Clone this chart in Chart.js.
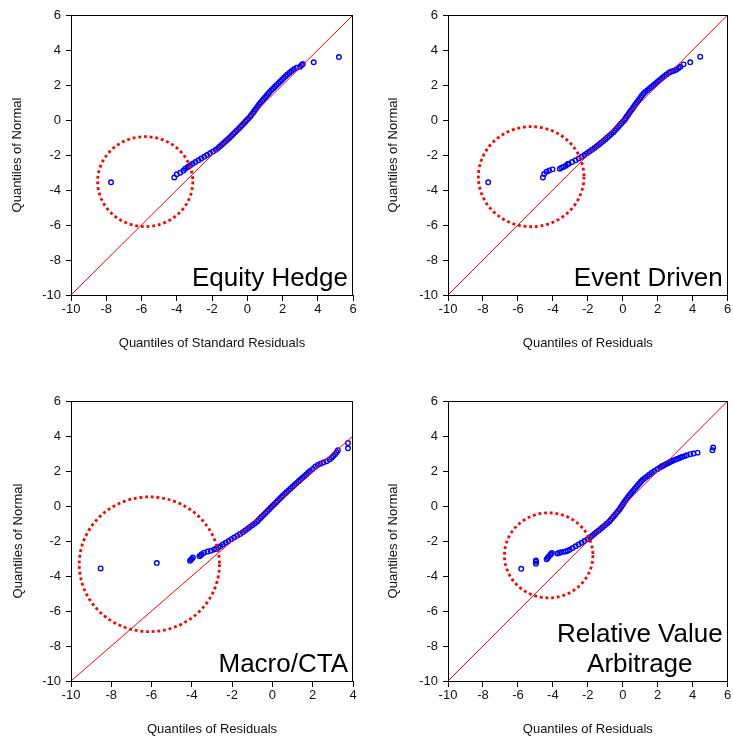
<!DOCTYPE html>
<html>
<head>
<meta charset="utf-8">
<script src="https://cdn.jsdelivr.net/npm/chart.js@4/dist/chart.umd.min.js"></script>
<style>
html,body{margin:0;padding:0;background:#fff;}
body{width:733px;height:738px;position:relative;overflow:hidden;}
canvas{position:absolute;display:block;}
</style>
</head>
<body>
<canvas id="p0" style="left:0px;top:0px;width:366px;height:366px" width="366" height="366"></canvas>
<canvas id="p1" style="left:370px;top:0px;width:363px;height:366px" width="363" height="366"></canvas>
<canvas id="p2" style="left:0px;top:380px;width:366px;height:358px" width="366" height="358"></canvas>
<canvas id="p3" style="left:370px;top:380px;width:363px;height:358px" width="363" height="358"></canvas>
<script>
// ---------------- DATA ----------------
const panelTitles = [["Equity Hedge"], ["Event Driven"], ["Macro/CTA"], ["Relative Value", "Arbitrage"]];
const xAxisTitles = ["Quantiles of Standard Residuals", "Quantiles of Residuals", "Quantiles of Residuals", "Quantiles of Residuals"];
const yAxisTitle = "Quantiles of Normal";
const xAxisMin = [-10, -10, -10, -10];
const xAxisMax = [6, 6, 4, 6];
const yAxisMin = -10;
const yAxisMax = 6;
const tickStep = 2;

// Equity Hedge: quantiles of standard residuals (x) vs quantiles of normal (y)
const ehResid = [-7.73,-4.14,-4.00,-3.80,-3.63,-3.52,-3.40,-3.34,-3.24,-3.10,-2.94,-2.77,-2.61,-2.44,-2.28,-2.11,-1.94,-1.78,-1.65,-1.54,-1.43,-1.32,-1.21,-1.10,-0.99,-0.89,-0.79,-0.69,-0.59,-0.49,-0.39,-0.30,-0.20,-0.11,-0.02,0.08,0.17,0.24,0.32,0.39,0.46,0.54,0.61,0.68,0.76,0.85,0.93,1.02,1.10,1.19,1.27,1.37,1.47,1.57,1.67,1.77,1.87,1.97,2.07,2.17,2.28,2.40,2.52,2.65,2.80,3.00,3.09,3.15,3.77,5.20];
const ehNormal = [-3.56,-3.28,-3.10,-3.01,-2.90,-2.78,-2.70,-2.67,-2.60,-2.50,-2.40,-2.30,-2.20,-2.10,-2.00,-1.90,-1.80,-1.70,-1.60,-1.50,-1.40,-1.30,-1.20,-1.10,-1.00,-0.90,-0.80,-0.70,-0.60,-0.50,-0.40,-0.30,-0.20,-0.10,0.00,0.10,0.20,0.30,0.40,0.50,0.60,0.70,0.80,0.90,1.00,1.10,1.20,1.30,1.40,1.50,1.60,1.70,1.80,1.90,2.00,2.10,2.20,2.30,2.40,2.50,2.60,2.70,2.80,2.90,2.98,3.05,3.14,3.20,3.30,3.60];

// Event Driven
const edResid = [-7.70,-4.57,-4.50,-4.36,-4.21,-4.02,-3.60,-3.50,-3.40,-3.26,-3.16,-3.10,-2.90,-2.70,-2.52,-2.35,-2.19,-2.05,-1.91,-1.76,-1.62,-1.49,-1.36,-1.24,-1.11,-0.99,-0.88,-0.77,-0.66,-0.54,-0.45,-0.36,-0.27,-0.18,-0.09,0.00,0.10,0.16,0.23,0.30,0.37,0.44,0.52,0.59,0.66,0.73,0.81,0.88,0.96,1.03,1.10,1.18,1.28,1.41,1.53,1.65,1.77,1.89,2.01,2.13,2.25,2.37,2.50,2.64,2.75,2.88,3.00,3.09,3.20,3.29,3.48,3.86,4.43];
const edNormal = [-3.56,-3.28,-3.09,-2.95,-2.88,-2.82,-2.78,-2.72,-2.68,-2.61,-2.53,-2.50,-2.40,-2.30,-2.20,-2.10,-2.00,-1.90,-1.80,-1.70,-1.60,-1.50,-1.40,-1.30,-1.20,-1.10,-1.00,-0.90,-0.80,-0.70,-0.60,-0.50,-0.40,-0.30,-0.20,-0.10,0.00,0.10,0.20,0.30,0.40,0.50,0.60,0.70,0.80,0.90,1.00,1.10,1.20,1.30,1.40,1.50,1.60,1.70,1.80,1.90,2.00,2.10,2.20,2.30,2.40,2.50,2.60,2.70,2.76,2.80,2.84,2.90,2.97,3.05,3.18,3.30,3.62];

// Macro/CTA
const mcResid = [-8.53,-5.74,-4.09,-4.04,-4.00,-3.95,-3.62,-3.56,-3.51,-3.39,-3.22,-3.06,-2.89,-2.79,-2.69,-2.59,-2.46,-2.32,-2.18,-2.04,-1.90,-1.75,-1.61,-1.47,-1.35,-1.23,-1.12,-1.00,-0.88,-0.77,-0.69,-0.60,-0.52,-0.43,-0.34,-0.26,-0.17,-0.09,0.00,0.09,0.18,0.26,0.35,0.44,0.52,0.62,0.71,0.81,0.90,1.00,1.09,1.19,1.29,1.38,1.48,1.58,1.68,1.77,1.87,2.00,2.12,2.25,2.38,2.53,2.69,2.84,2.94,3.02,3.11,3.19,3.25,3.75,3.75];
const mcNormal = [-3.57,-3.26,-3.13,-3.06,-3.02,-2.94,-2.87,-2.81,-2.75,-2.67,-2.60,-2.56,-2.48,-2.43,-2.37,-2.30,-2.20,-2.10,-2.00,-1.90,-1.80,-1.70,-1.60,-1.50,-1.40,-1.30,-1.20,-1.10,-1.00,-0.90,-0.80,-0.70,-0.60,-0.50,-0.40,-0.30,-0.20,-0.10,0.00,0.10,0.20,0.30,0.40,0.50,0.60,0.70,0.80,0.90,1.00,1.10,1.20,1.30,1.40,1.50,1.60,1.70,1.80,1.90,2.00,2.12,2.25,2.35,2.42,2.48,2.56,2.66,2.76,2.86,2.96,3.07,3.18,3.30,3.60];

// Relative Value Arbitrage
const rvResid = [-5.81,-4.97,-4.97,-4.97,-4.36,-4.30,-4.25,-4.15,-4.12,-4.06,-3.74,-3.64,-3.55,-3.40,-3.26,-3.15,-3.04,-2.87,-2.70,-2.53,-2.36,-2.19,-2.02,-1.87,-1.75,-1.63,-1.51,-1.38,-1.26,-1.14,-1.02,-0.90,-0.78,-0.70,-0.61,-0.53,-0.44,-0.36,-0.27,-0.19,-0.13,-0.06,0.01,0.07,0.14,0.22,0.29,0.37,0.45,0.53,0.62,0.70,0.79,0.87,0.96,1.04,1.14,1.27,1.40,1.53,1.66,1.81,1.97,2.13,2.24,2.30,2.39,2.49,2.58,2.68,2.77,2.81,2.93,3.06,3.18,3.28,3.38,3.52,3.66,3.86,4.05,4.28,5.13,5.17];
const rvNormal = [-3.59,-3.30,-3.19,-3.11,-3.04,-2.97,-2.90,-2.80,-2.75,-2.69,-2.71,-2.68,-2.64,-2.62,-2.60,-2.56,-2.50,-2.40,-2.30,-2.20,-2.10,-2.00,-1.90,-1.80,-1.70,-1.60,-1.50,-1.40,-1.30,-1.20,-1.10,-1.00,-0.90,-0.80,-0.70,-0.60,-0.50,-0.40,-0.30,-0.20,-0.10,0.00,0.10,0.20,0.30,0.40,0.50,0.60,0.70,0.80,0.90,1.00,1.10,1.20,1.30,1.40,1.50,1.60,1.70,1.80,1.90,2.00,2.10,2.20,2.27,2.30,2.35,2.40,2.45,2.50,2.55,2.57,2.62,2.67,2.72,2.76,2.80,2.85,2.90,2.96,3.00,3.05,3.18,3.34];

// 45-degree reference lines (start/end in data units)
const refLineX = [[-10, 6], [-10, 6], [-10, 4], [-10, 6]];
const refLineY = [[-10, 6], [-10, 6], [-10, 4], [-10, 6]];

// Dotted outlier circles (centre and radii in data units)
const outlierCircleX = [-5.79, -5.24, -6.11, -4.24];
const outlierCircleY = [-3.52, -3.24, -3.33, -2.82];
const outlierCircleRX = [2.70, 3.02, 3.48, 2.53];
const outlierCircleRY = [2.57, 2.86, 3.85, 2.43];

const residSeries = [ehResid, edResid, mcResid, rvResid];
const normalSeries = [ehNormal, edNormal, mcNormal, rvNormal];

// ---------------- LAYOUT (not data) ----------------
const geoms = [
  {yAxisW:71, xAxisH:71, padTop:15, padRight:13, yTitlePad:9.7,  xTitlePad:14.9},
  {yAxisW:78, xAxisH:71, padTop:15, padRight:4,  yTitlePad:16.0, xTitlePad:15.2},
  {yAxisW:71, xAxisH:57, padTop:21, padRight:13, yTitlePad:10.2, xTitlePad:0.9},
  {yAxisW:78, xAxisH:57, padTop:21, padRight:4,  yTitlePad:16.0, xTitlePad:0.9}
];

Chart.defaults.font.family = "'Liberation Sans', Arial, Helvetica, sans-serif";
Chart.defaults.color = '#000';

const framePlugin = {
  id: 'frame',
  afterDraw(chart) {
    const {ctx, chartArea: a} = chart;
    ctx.save();
    ctx.strokeStyle = '#000';
    ctx.lineWidth = 1;
    ctx.strokeRect(Math.round(a.left) + 0.5, Math.round(a.top) + 0.5,
                   Math.round(a.right) - Math.round(a.left) - 1, Math.round(a.bottom) - Math.round(a.top));
    ctx.restore();
  }
};

const circlePlugin = {
  id: 'outlierCircle',
  afterDatasetsDraw(chart, args, opts) {
    const i = opts.index;
    const xs = chart.scales.x, ys = chart.scales.y;
    const cx = xs.getPixelForValue(outlierCircleX[i]);
    const cy = ys.getPixelForValue(outlierCircleY[i]);
    const rx = Math.abs(xs.getPixelForValue(outlierCircleX[i] + outlierCircleRX[i]) - cx);
    const ry = Math.abs(ys.getPixelForValue(outlierCircleY[i] + outlierCircleRY[i]) - cy);
    const ctx = chart.ctx;
    ctx.save();
    ctx.beginPath();
    ctx.ellipse(cx, cy, rx, ry, 0, 0, Math.PI * 2);
    ctx.strokeStyle = '#ff0000';
    ctx.lineWidth = 2.8;
    ctx.setLineDash([2.8, 2.9]);
    ctx.stroke();
    ctx.restore();
  }
};

const labelPlugin = {
  id: 'panelLabel',
  afterDraw(chart, args, opts) {
    const lines = panelTitles[opts.index];
    const {ctx, chartArea: a} = chart;
    ctx.save();
    ctx.font = "26px 'Liberation Sans', Arial, sans-serif";
    ctx.fillStyle = '#000';
    ctx.textBaseline = 'alphabetic';
    const widths = lines.map(t => ctx.measureText(t).width);
    const maxW = Math.max(...widths);
    const right = a.right - 5;
    const lh = 30;
    lines.forEach((t, k) => {
      const y = a.bottom - 9 - (lines.length - 1 - k) * lh;
      if (lines.length === 1) {
        ctx.textAlign = 'right';
        ctx.fillText(t, right, y);
      } else {
        ctx.textAlign = 'center';
        ctx.fillText(t, right - maxW / 2, y);
      }
    });
    ctx.restore();
  }
};

function makePanel(i) {
  const g = geoms[i];
  const pts = residSeries[i].map((x, k) => ({x: x, y: normalSeries[i][k]}));
  const line = refLineX[i].map((x, k) => ({x: x, y: refLineY[i][k]}));
  const tickFont = {size: 13};
  new Chart(document.getElementById('p' + i), {
    type: 'scatter',
    data: {
      datasets: [
        {type: 'line', data: line, borderColor: '#ff0000', borderWidth: 1, pointRadius: 0, fill: false, tension: 0},
        {type: 'scatter', data: pts, borderColor: '#0000ff', backgroundColor: 'rgba(0,0,0,0)',
         pointRadius: 2.3, borderWidth: 1.35, pointStyle: 'circle'}
      ]
    },
    options: {
      responsive: false,
      animation: false,
      events: [],
      layout: {padding: {left: 0, right: g.padRight, top: g.padTop, bottom: 0}},
      plugins: {
        legend: {display: false},
        tooltip: {enabled: false},
        outlierCircle: {index: i},
        panelLabel: {index: i}
      },
      scales: {
        x: {
          type: 'linear', position: 'bottom',
          min: xAxisMin[i], max: xAxisMax[i],
          ticks: {stepSize: tickStep, font: tickFont, color: '#111', padding: 1, maxRotation: 0, autoSkip: false},
          grid: {display: true, drawOnChartArea: false, drawTicks: true, tickLength: 6, color: '#000', lineWidth: 1},
          border: {display: true, color: '#000', width: 1},
          title: {display: true, text: xAxisTitles[i], font: {size: 13}, color: '#111', padding: {top: 0, bottom: g.xTitlePad}},
          afterFit(s) { s.height = g.xAxisH; }
        },
        y: {
          type: 'linear', position: 'left',
          min: yAxisMin, max: yAxisMax,
          ticks: {stepSize: tickStep, font: tickFont, color: '#111', padding: 5, autoSkip: false},
          grid: {display: true, drawOnChartArea: false, drawTicks: true, tickLength: 5, color: '#000', lineWidth: 1},
          border: {display: true, color: '#000', width: 1},
          title: {display: true, text: yAxisTitle, font: {size: 13}, color: '#111', padding: {top: g.yTitlePad, bottom: 0}},
          afterFit(s) { s.width = g.yAxisW; }
        }
      }
    },
    plugins: [framePlugin, circlePlugin, labelPlugin]
  });
}

for (let i = 0; i < 4; i++) makePanel(i);
</script>
</body>
</html>
